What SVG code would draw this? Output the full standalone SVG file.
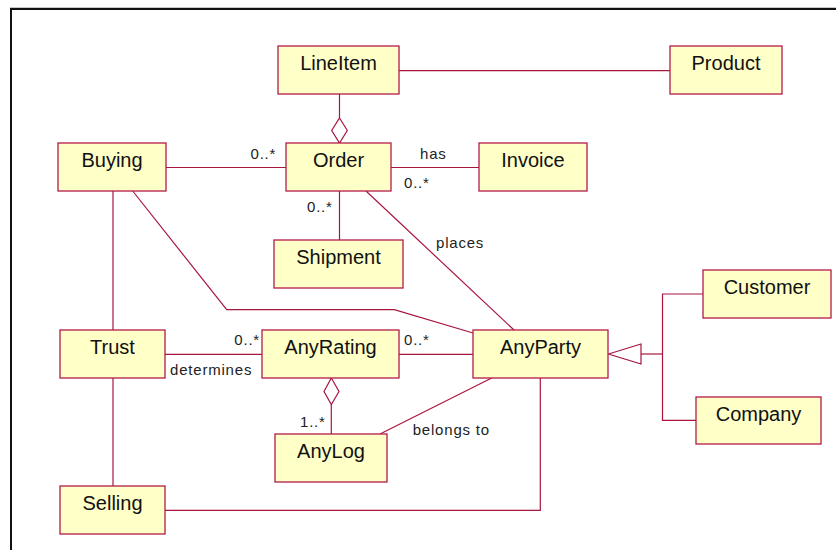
<svg xmlns="http://www.w3.org/2000/svg" width="836" height="550" viewBox="0 0 836 550">
  <style>
    .box { fill: #ffffc8; stroke: #b41a4a; stroke-width: 1.3; }
    .name { font-family: "Liberation Sans", Arial, sans-serif; font-size: 20px; fill: #111; text-anchor: middle; }
    .lbl { font-family: "Liberation Sans", Arial, sans-serif; font-size: 15px; fill: #222; letter-spacing: 0.8px; }
    .conn { fill: none; stroke: #a8163e; stroke-width: 1.2; }
    .diamond { fill: #ffffff; stroke: #a8163e; stroke-width: 1.2; }
  </style>

  <rect width="836" height="550" fill="#ffffff"/>
  <!-- page frame -->
  <rect x="10" y="7" width="826" height="1.2" fill="#c8c8c8"/>
  <path d="M11 550 V9 H836" fill="none" stroke="#111" stroke-width="2"/>

  <g id="connectors">
    <!-- LineItem - Product -->
    <line class="conn" x1="399" y1="70.7" x2="670" y2="70.7"/>
    <!-- LineItem - Order (aggregation) -->
    <line class="conn" x1="339.5" y1="94" x2="339.5" y2="118"/>
    <polygon class="diamond" points="339.5,118 347.3,130.5 339.5,143 331.7,130.5"/>
    <!-- Buying - Order -->
    <line class="conn" x1="166" y1="167.5" x2="286" y2="167.5"/>
    <!-- Order - Invoice -->
    <line class="conn" x1="391" y1="167.5" x2="479" y2="167.5"/>
    <!-- Order - Shipment -->
    <line class="conn" x1="339.5" y1="191" x2="339.5" y2="240"/>
    <!-- Order - AnyParty (places) -->
    <line class="conn" x1="366" y1="191" x2="514" y2="330"/>
    <!-- Buying - AnyParty -->
    <polyline class="conn" points="132.7,191 226.7,309.7 394.3,309.7 473,333"/>
    <!-- Buying - Trust - Selling -->
    <line class="conn" x1="113" y1="191" x2="113" y2="330"/>
    <line class="conn" x1="113" y1="378" x2="113" y2="486"/>
    <!-- Trust - AnyRating (determines) -->
    <line class="conn" x1="165" y1="354.3" x2="262" y2="354.3"/>
    <!-- AnyRating - AnyParty -->
    <line class="conn" x1="399" y1="354.3" x2="473" y2="354.3"/>
    <!-- AnyRating - AnyLog (aggregation) -->
    <polygon class="diamond" points="331.3,378 339,391.5 331.3,404.5 324,391.5"/>
    <line class="conn" x1="331.3" y1="404.5" x2="331.3" y2="434"/>
    <!-- AnyLog - AnyParty (belongs to) -->
    <line class="conn" x1="380" y1="434" x2="491.7" y2="378"/>
    <!-- Selling - AnyParty -->
    <polyline class="conn" points="165,510.3 540.3,510.3 540.3,378"/>
    <!-- generalization: Customer, Company -> AnyParty -->
    <polygon class="diamond" points="608.5,354 641,344 641,364"/>
    <line class="conn" x1="641" y1="354" x2="662.5" y2="354"/>
    <polyline class="conn" points="703,294 662.5,294 662.5,420.3 696,420.3"/>
  </g>

  <g id="labels">
    <text class="lbl" x="250.5" y="159.3">0..*</text>
    <text class="lbl" x="420" y="159">has</text>
    <text class="lbl" x="404" y="187.7">0..*</text>
    <text class="lbl" x="307" y="211.7">0..*</text>
    <text class="lbl" x="436" y="248.3">places</text>
    <text class="lbl" x="234.3" y="345">0..*</text>
    <text class="lbl" x="170" y="375">determines</text>
    <text class="lbl" x="404" y="345">0..*</text>
    <text class="lbl" x="300" y="427.3">1..*</text>
    <text class="lbl" x="412.7" y="435">belongs to</text>
  </g>

  <g id="LineItem"><rect class="box" x="278" y="46" width="121" height="48"/><text class="name" x="338.5" y="70">LineItem</text></g>
  <g id="Product"><rect class="box" x="670" y="46" width="112" height="48"/><text class="name" x="726" y="70">Product</text></g>
  <g id="Buying"><rect class="box" x="58" y="143" width="108" height="48"/><text class="name" x="112" y="167">Buying</text></g>
  <g id="Order"><rect class="box" x="286" y="143" width="105" height="48"/><text class="name" x="338.5" y="167">Order</text></g>
  <g id="Invoice"><rect class="box" x="479" y="143" width="108" height="48"/><text class="name" x="533" y="167">Invoice</text></g>
  <g id="Shipment"><rect class="box" x="274" y="240" width="129" height="48"/><text class="name" x="338.5" y="264">Shipment</text></g>
  <g id="Customer"><rect class="box" x="703" y="270" width="128" height="48"/><text class="name" x="767" y="294">Customer</text></g>
  <g id="Trust"><rect class="box" x="60" y="330" width="105" height="48"/><text class="name" x="112.5" y="354">Trust</text></g>
  <g id="AnyRating"><rect class="box" x="262" y="330" width="137" height="48"/><text class="name" x="330.5" y="354">AnyRating</text></g>
  <g id="AnyParty"><rect class="box" x="473" y="330" width="135" height="48"/><text class="name" x="540.5" y="354">AnyParty</text></g>
  <g id="Company"><rect class="box" x="696" y="397" width="125" height="47"/><text class="name" x="758.5" y="421">Company</text></g>
  <g id="AnyLog"><rect class="box" x="275" y="434" width="112" height="48"/><text class="name" x="331" y="458">AnyLog</text></g>
  <g id="Selling"><rect class="box" x="60" y="486" width="105" height="48"/><text class="name" x="112.5" y="510">Selling</text></g>
</svg>
